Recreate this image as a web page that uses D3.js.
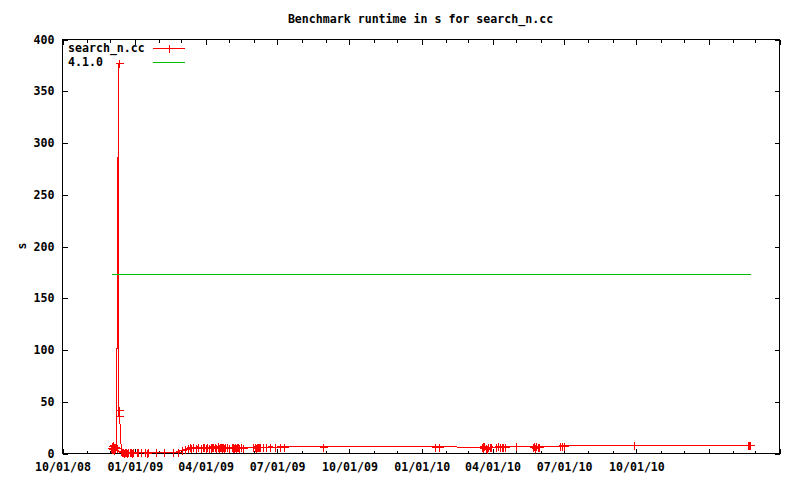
<!DOCTYPE html>
<html>
<head>
<meta charset="utf-8">
<script src="https://cdn.jsdelivr.net/npm/d3@7"></script>
<style>
  html, body { margin: 0; padding: 0; background: #fff; }
  svg { display: block; }
  text { font-family: "DejaVu Sans Mono", "Liberation Mono", monospace; font-size: 11.6px; font-weight: bold; fill: #000; }
</style>
</head>
<body>
<script>
// ---------- data ----------
const chartTitle = "Benchmark runtime in s for search_n.cc";
const yAxisLabel = "s";
const seriesNames = ["search_n.cc", "4.1.0"];

const runDates = [
  "2008-12-02","2008-12-03","2008-12-04","2008-12-04T12","2008-12-05","2008-12-06","2008-12-06T12","2008-12-07","2008-12-08",
  "2008-12-09T08","2008-12-11T21","2008-12-11T23","2008-12-12T21",
  "2008-12-15T12","2008-12-16","2008-12-17","2008-12-18","2008-12-19","2008-12-20","2008-12-21","2008-12-22","2008-12-23","2008-12-24","2008-12-26","2008-12-27","2008-12-28","2008-12-29","2008-12-30",
  "2009-01-05","2009-01-06","2009-01-10","2009-01-15","2009-01-17","2009-01-19","2009-01-29","2009-02-08","2009-02-19",
  "2009-02-25","2009-03-03","2009-03-07","2009-03-10",
  "2009-03-13","2009-03-14","2009-03-17","2009-03-21","2009-03-23","2009-03-27","2009-03-29","2009-03-31","2009-04-02","2009-04-03",
  "2009-04-06","2009-04-08","2009-04-09","2009-04-10","2009-04-11","2009-04-13","2009-04-15","2009-04-17","2009-04-18","2009-04-19",
  "2009-04-20","2009-04-21","2009-04-22","2009-04-23","2009-04-24","2009-04-25","2009-04-26","2009-04-29","2009-05-01","2009-05-05",
  "2009-05-06","2009-05-07","2009-05-08","2009-05-09","2009-05-10","2009-05-11","2009-05-12","2009-05-13","2009-05-14","2009-05-17",
  "2009-05-19","2009-06-01","2009-06-04","2009-06-05","2009-06-06","2009-06-07","2009-06-08","2009-06-10","2009-06-14","2009-06-18",
  "2009-06-22","2009-06-29","2009-07-05","2009-07-10","2009-08-29",
  "2010-01-19","2010-01-24",
  "2010-03-19","2010-03-20","2010-03-21","2010-03-22","2010-03-24","2010-03-25","2010-03-27","2010-03-29","2010-03-31","2010-04-06",
  "2010-04-09","2010-04-11","2010-04-14","2010-04-15","2010-04-18","2010-05-02","2010-05-23","2010-05-25","2010-05-26","2010-05-27",
  "2010-05-29","2010-05-31","2010-06-27","2010-06-29","2010-07-01","2010-09-28",
  "2011-02-21","2011-02-22","2011-02-23"
];
const runValues = [
  5.0,3.5,6.5,4.0,7.5,3.0,5.5,4.5,6.0,
  5,377,36,42,
  1.5,1.0,0.5,0.6,0.4,0.5,0.6,0.5,0.4,0.5,0.6,0.5,0.5,0.4,0.5,
  0.5,0.6,0.5,0.5,0.4,0.5,0.5,0.6,0.5,
  1.2,2.5,4.0,5.0,
  5.5,4.8,5.8,5.2,6.0,5.0,5.6,6.2,5.0,5.7,
  5.3,6.0,4.9,5.8,5.4,6.1,5.2,5.6,6.3,5.0,
  5.9,5.4,6.2,5.1,5.8,5.3,6.0,5.5,5.2,5.6,
  4.8,6.2,5.3,5.9,4.9,6.1,5.4,5.8,5.0,5.5,
  5.2,5.6,5.9,5.3,6.2,5.5,6.0,5.4,5.8,5.6,
  6.0,5.7,5.9,5.8,5.9,
  6.0,6.0,
  5.5,6.5,4.5,6.8,5.0,4.0,6.2,5.4,6.0,5.5,
  6.3,5.8,6.0,5.6,6.2,6.5,6.0,6.8,5.2,6.4,
  5.6,5.9,6.8,7.2,7.0,7.5,
  7.3,7.8,7.5
];

const refDates = ["2008-12-02", "2011-02-23"];
const refValues = [173, 173];

const xDomain = ["2008-10-01", "2011-04-01"];
const yDomain = [0, 400];
const yTicks = [0, 50, 100, 150, 200, 250, 300, 350, 400];
const xLabelDates = ["2008-10-01","2009-01-01","2009-04-01","2009-07-01","2009-10-01","2010-01-01","2010-04-01","2010-07-01","2010-10-01"];
const xTickLabels = ["10/01/08","01/01/09","04/01/09","07/01/09","10/01/09","01/01/10","04/01/10","07/01/10","10/01/10"];
const xMajorTickDates = ["2008-10-01","2009-01-01","2009-04-01","2009-07-01","2009-10-01","2010-01-01","2010-04-01","2010-07-01","2010-10-01","2011-01-01","2011-04-01"];

// ---------- drawing ----------
const W = 800, H = 480;
const L = 62, R = 779, T = 39, B = 453;
const parse = s => new Date(s.length > 10 ? s + ":00:00" : s + "T00:00:00");

const svg = d3.select("body").append("svg").attr("width", W).attr("height", H);

const x = d3.scaleTime().domain(xDomain.map(parse)).range([L, R]);
const y = d3.scaleLinear().domain(yDomain).range([B, T]);

const runData = runDates.map((d, i) => ({ d: parse(d), v: runValues[i] }));
const refData = refDates.map((d, i) => ({ d: parse(d), v: refValues[i] }));

// ticks
const monthTicks = d3.timeMonth.range(parse(xDomain[0]), d3.timeDay.offset(parse(xDomain[1]), 1));
const majorSet = new Set(xMajorTickDates.map(s => +parse(s)));
const minorTicks = monthTicks.filter(d => !majorSet.has(+d));
const majorTicks = xMajorTickDates.map(parse);
const labelMap = new Map(xLabelDates.map((s, i) => [+parse(s), xTickLabels[i]]));

function styleAxis(g) {
  g.select(".domain").remove();
  g.selectAll("line").attr("stroke", "#000").attr("shape-rendering", "crispEdges");
  g.selectAll("text").attr("font-family", null).attr("font-size", null);
}

svg.append("g").attr("transform", `translate(0.5,${B + 0.5})`)
  .call(d3.axisBottom(x).tickValues(majorTicks).tickSize(-5).tickPadding(9)
    .tickFormat(d => labelMap.get(+d) || ""))
  .call(styleAxis);
svg.append("g").attr("transform", `translate(0.5,${B + 0.5})`)
  .call(d3.axisBottom(x).tickValues(minorTicks).tickSize(-3).tickFormat(""))
  .call(styleAxis);
svg.append("g").attr("transform", `translate(0.5,${T + 0.5})`)
  .call(d3.axisTop(x).tickValues(majorTicks).tickSize(-5).tickFormat(""))
  .call(styleAxis);
svg.append("g").attr("transform", `translate(0.5,${T + 0.5})`)
  .call(d3.axisTop(x).tickValues(minorTicks).tickSize(-3).tickFormat(""))
  .call(styleAxis);
svg.append("g").attr("transform", `translate(${L + 0.5},0.5)`)
  .call(d3.axisLeft(y).tickValues(yTicks).tickSize(-5).tickPadding(8).tickFormat(d3.format("d")))
  .call(styleAxis);
svg.append("g").attr("transform", `translate(${R + 0.5},0.5)`)
  .call(d3.axisRight(y).tickValues(yTicks).tickSize(-5).tickFormat(""))
  .call(styleAxis);

svg.append("rect").attr("x", L + 0.5).attr("y", T + 0.5).attr("width", R - L).attr("height", B - T)
  .attr("fill", "none").attr("stroke", "#000").attr("shape-rendering", "crispEdges");

svg.append("text").attr("x", (L + R) / 2).attr("y", 19).attr("dy", "0.35em")
  .attr("text-anchor", "middle").text(chartTitle);
svg.append("text").attr("transform", "translate(22,246) rotate(-90)").attr("dy", "0.35em")
  .attr("text-anchor", "middle").text(yAxisLabel);

// series line
const line = d3.line().x(d => x(d.d)).y(d => y(d.v));
svg.append("path").datum(runData).attr("d", line)
  .attr("fill", "none").attr("stroke", "#ff0000").attr("stroke-width", 1).attr("shape-rendering", "crispEdges");
const plus = "M-4,0H4M0,-4V4";
svg.append("g").selectAll("path").data(runData).join("path")
  .attr("transform", d => `translate(${Math.round(x(d.d)) + 0.5},${Math.round(y(d.v)) + 0.5})`)
  .attr("d", plus).attr("fill", "none").attr("stroke", "#ff0000").attr("shape-rendering", "crispEdges");

// reference line (snapped to pixel grid)
const snapLine = d3.line().x(d => Math.round(x(d.d)) + 0.5).y(d => Math.round(y(d.v)) + 0.5);
svg.append("path").datum(refData).attr("d", snapLine)
  .attr("fill", "none").attr("stroke", "#00c000").attr("stroke-width", 1).attr("shape-rendering", "crispEdges");

// legend
const legend = svg.append("g");
const legY = [48, 61.5];
const legColors = ["#ff0000", "#00c000"];
seriesNames.forEach((name, i) => {
  legend.append("text").attr("x", 68).attr("y", legY[i]).attr("dy", "0.35em").text(name);
  legend.append("line").attr("x1", 153).attr("x2", 185).attr("y1", Math.round(legY[i]) + 0.5).attr("y2", Math.round(legY[i]) + 0.5)
    .attr("stroke", legColors[i]).attr("shape-rendering", "crispEdges");
  if (i === 0) {
    legend.append("path").attr("transform", `translate(169.5,${Math.round(legY[i]) + 0.5})`)
      .attr("d", plus).attr("fill", "none").attr("stroke", legColors[i]).attr("shape-rendering", "crispEdges");
  }
});
</script>
</body>
</html>
